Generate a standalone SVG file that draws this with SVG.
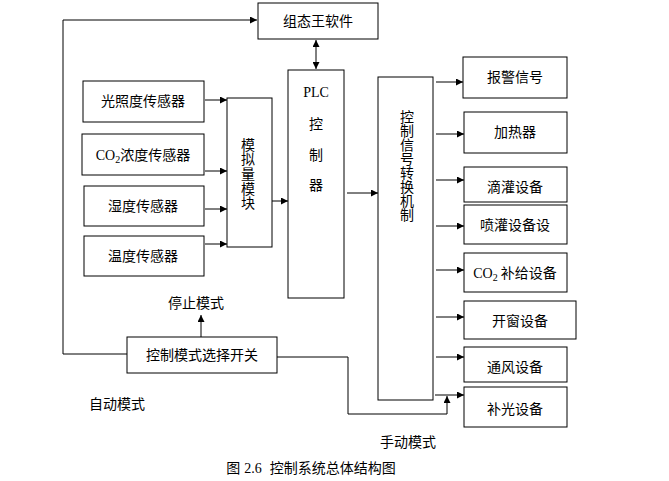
<svg xmlns="http://www.w3.org/2000/svg" width="669" height="481" viewBox="0 0 669 481">
<defs>
<style>
.b{fill:#fff;stroke:#000;stroke-width:1}
.t{font-family:"Noto Sans CJK SC","Liberation Sans",sans-serif;font-size:14px;fill:#000;text-anchor:middle}
.v{writing-mode:vertical-rl;text-orientation:upright}
.s{font-family:"Liberation Serif","Noto Sans CJK SC",serif}
.c{fill:none;stroke:#000;stroke-width:1}
</style>
<marker id="ah" viewBox="0 0 10 10" refX="10" refY="5" markerWidth="9" markerHeight="7" orient="auto-start-reverse" markerUnits="userSpaceOnUse"><path d="M0,0 L10,5 L0,10 z" fill="#000"/></marker>
</defs>
<rect width="669" height="481" fill="#fff"/>
<g id="connectors">
<path class="c" d="M127,354 H63 V20 H257" marker-end="url(#ah)"/>
<path class="c" d="M316,40 V69" marker-start="url(#ah)" marker-end="url(#ah)"/>
<path class="c" d="M205,100 H227" marker-end="url(#ah)"/>
<path class="c" d="M205,171 H227" marker-end="url(#ah)"/>
<path class="c" d="M205,209 H227" marker-end="url(#ah)"/>
<path class="c" d="M205,244 H227" marker-end="url(#ah)"/>
<path class="c" d="M272,201 H288" marker-end="url(#ah)"/>
<path class="c" d="M347,193 H378" marker-end="url(#ah)"/>
<path class="c" d="M436,82 H463" marker-end="url(#ah)"/>
<path class="c" d="M436,134 H464" marker-end="url(#ah)"/>
<path class="c" d="M436,180 H464" marker-end="url(#ah)"/>
<path class="c" d="M436,226 H464" marker-end="url(#ah)"/>
<path class="c" d="M436,270 H464" marker-end="url(#ah)"/>
<path class="c" d="M436,317 H464" marker-end="url(#ah)"/>
<path class="c" d="M436,357 H464" marker-end="url(#ah)"/>
<path class="c" d="M435,395 H464" marker-end="url(#ah)"/>
<path class="c" d="M201,337 V315" marker-end="url(#ah)"/>
<path class="c" d="M277,357 H348 V414 H447 V396" marker-end="url(#ah)"/>
</g>
<g id="zutaiwang"><rect class="b" x="258" y="3" width="120" height="36"/><text class="t" x="318" y="26">组态王软件</text></g>
<g id="plc"><rect class="b" x="288" y="70" width="56" height="228"/>
<text class="t s" x="316" y="97" font-size="15">PLC</text>
<text class="t" x="316" y="129">控</text><text class="t" x="316" y="160">制</text><text class="t" x="316" y="190">器</text></g>
<g id="s1"><rect class="b" x="83" y="81" width="121" height="41"/><text class="t" x="143" y="106">光照度传感器</text></g>
<g id="s2"><rect class="b" x="82" y="134" width="122" height="41"/><text class="t" x="143" y="160"><tspan class="s">CO</tspan><tspan class="s" font-size="10" dy="3">2</tspan><tspan dy="-3">浓度传感器</tspan></text></g>
<g id="s3"><rect class="b" x="84" y="186" width="120" height="40"/><text class="t" x="143" y="211">湿度传感器</text></g>
<g id="s4"><rect class="b" x="84" y="236" width="120" height="40"/><text class="t" x="143" y="261">温度传感器</text></g>
<g id="analog"><rect class="b" x="227" y="98" width="45" height="149"/>
<text class="t v" x="248" y="174" letter-spacing="0.6">模拟量模块</text></g>
<g id="conv"><rect class="b" x="378" y="77" width="55" height="323"/>
<text class="t v" x="407" y="166">控制信号转换机制</text></g>
<g id="o1"><rect class="b" x="463" y="57" width="104" height="41"/><text class="t" x="515" y="82">报警信号</text></g>
<g id="o2"><rect class="b" x="464" y="112" width="103" height="41"/><text class="t" x="515" y="137">加热器</text></g>
<g id="o3"><rect class="b" x="464" y="167" width="103" height="35"/><text class="t" x="515" y="192">滴灌设备</text></g>
<g id="o4"><rect class="b" x="464" y="205" width="103" height="39"/><text class="t" x="515" y="230">喷灌设备设</text></g>
<g id="o5"><rect class="b" x="464" y="253" width="103" height="39"/><text class="t" x="515" y="278"><tspan class="s">CO</tspan><tspan class="s" font-size="10" dy="3">2</tspan><tspan dy="-3" dx="3">补给设备</tspan></text></g>
<g id="o6"><rect class="b" x="464" y="301" width="112" height="38"/><text class="t" x="520" y="326">开窗设备</text></g>
<g id="o7"><rect class="b" x="464" y="347" width="103" height="35"/><text class="t" x="515" y="372">通风设备</text></g>
<g id="o8"><rect class="b" x="464" y="387" width="103" height="40"/><text class="t" x="515" y="414">补光设备</text></g>
<g id="switch"><rect class="b" x="127" y="337" width="150" height="36"/><text class="t" x="202" y="360">控制模式选择开关</text></g>
<text class="t" x="196" y="308">停止模式</text>
<text class="t" x="117" y="409">自动模式</text>
<text class="t" x="408" y="447">手动模式</text>
<text class="t" x="311" y="473">图<tspan class="s" dx="4">2.6</tspan><tspan dx="8">控制系统总体结构图</tspan></text>
</svg>
